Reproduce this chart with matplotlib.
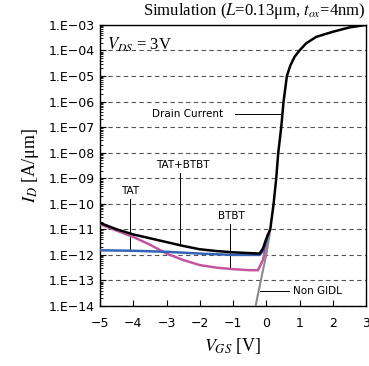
import numpy as np
import matplotlib
matplotlib.use('Agg')
from matplotlib import pyplot as plt
from matplotlib import ticker

plt.rcParams['mathtext.fontset'] = 'stix'

# Drain current (TAT+BTBT), log10(I_D)
v_drain = [-5, -4.5, -4, -3.5, -3, -2.5, -2, -1.5, -1, -0.5, -0.2, -0.1, 0, 0.12, 0.22, 0.3,
           0.36, 0.45, 0.52, 0.62, 0.72, 0.85, 1.0, 1.2, 1.5, 2.0, 2.5, 3.0]
log_drain = [-10.75, -11.0, -11.2, -11.35, -11.5, -11.65, -11.78, -11.85, -11.9, -11.93, -11.95,
             -11.75, -11.37, -11.0, -10.0, -9.0, -8.0, -7.0, -6.0, -5.0, -4.6, -4.25, -4.0,
             -3.72, -3.47, -3.27, -3.1, -3.0]

# TAT only
v_tat = [-5, -4, -3, -2, -1, -0.5, -0.2, -0.1, 0, 0.05]
log_tat = [-11.82, -11.84, -11.88, -11.95, -12.0, -12.0, -12.0, -11.85, -11.45, -11.2]

# BTBT only
v_btbt = [-5, -4.5, -4, -3.5, -3, -2.5, -2, -1.5, -1, -0.5, -0.25, -0.1, 0, 0.1]
log_btbt = [-10.8, -11.05, -11.3, -11.6, -11.95, -12.2, -12.4, -12.5, -12.56, -12.6, -12.6,
            -12.2, -11.6, -11.1]

# Non GIDL
v_non = [-0.35, -0.29, -0.1, 0, 0.1]
log_non = [-14.2, -13.8, -12.6, -12.0, -11.2]

fig = plt.figure(figsize=(3.69, 3.66), dpi=100)
ax = fig.add_axes([0.271, 0.164, 0.721, 0.768])

ax.plot(v_btbt, 10 ** np.array(log_btbt), color='#c4569e', lw=1.8, zorder=3)
ax.plot(v_tat, 10 ** np.array(log_tat), color='#3563b5', lw=1.8, zorder=4)
ax.plot(v_non, 10 ** np.array(log_non), color='#8a8a8a', lw=1.5, zorder=3)
ax.plot(v_drain, 10 ** np.array(log_drain), color='black', lw=1.8, zorder=5)

ax.set_yscale('log')
ax.set_xlim(-5, 3)
ax.set_ylim(1e-14, 1e-3)
ax.yaxis.set_major_locator(ticker.LogLocator(base=10, numticks=20))
ax.yaxis.set_minor_locator(ticker.LogLocator(base=10, subs=np.arange(2, 10), numticks=20))
ax.yaxis.set_major_formatter(ticker.FuncFormatter(
    lambda y, pos: '1.E\u2212%02d' % round(-np.log10(y))))
ax.yaxis.set_minor_formatter(ticker.NullFormatter())
ax.set_xticks(range(-5, 4))
ax.xaxis.set_major_formatter(ticker.FuncFormatter(
    lambda x, pos: ('\u2212%d' % -x) if x < 0 else '%d' % x))
ax.tick_params(direction='in', labelsize=9, length=4, width=0.8)
ax.tick_params(which='minor', direction='in', length=2, width=0.6)
ax.tick_params(axis='x', pad=8)
for lab in ax.get_xticklabels() + ax.get_yticklabels():
    lab.set_fontfamily('DejaVu Sans')

ax.grid(axis='y', which='major', linestyle=(0, (4, 3)), color='#555555', lw=0.8)
for s in ax.spines.values():
    s.set_linewidth(1.0)

ax.set_xlabel(r'$V_{GS}$ [V]', fontsize=13, fontfamily='Liberation Serif')
ax.set_ylabel(r'$I_D$ [A/μm]', fontsize=13, fontfamily='Liberation Serif', labelpad=6)
fig.text(0.99, 0.942, r'Simulation ($L$=0.13μm, $t_{ox}$=4nm)', ha='right', va='bottom',
         fontsize=12, fontfamily='Liberation Serif')
ax.text(-4.78, 10 ** -3.78, r'$V_{DS}$ = 3V', fontsize=12, fontfamily='Liberation Serif',
        va='center', ha='left')

# annotations with leader lines
ax.text(-3.45, 10 ** -6.5, 'Drain Current', fontsize=7.5, va='center', ha='left')
ax.plot([-0.95, 0.42], [10 ** -6.5, 10 ** -6.5], color='black', lw=0.7)

ax.text(-2.5, 10 ** -8.5, 'TAT+BTBT', fontsize=7.5, va='center', ha='center')
ax.plot([-2.6, -2.6], [10 ** -8.78, 10 ** -11.62], color='black', lw=0.7)

ax.text(-4.1, 10 ** -9.5, 'TAT', fontsize=7.5, va='center', ha='center')
ax.plot([-4.1, -4.1], [10 ** -9.8, 10 ** -11.83], color='black', lw=0.7)

ax.text(-1.05, 10 ** -10.47, 'BTBT', fontsize=7.5, va='center', ha='center')
ax.plot([-1.1, -1.1], [10 ** -10.78, 10 ** -12.56], color='black', lw=0.7)

ax.text(0.8, 10 ** -13.42, 'Non GIDL', fontsize=7.5, va='center', ha='left')
ax.plot([-0.2, 0.68], [10 ** -13.42, 10 ** -13.42], color='black', lw=0.7)

fig.savefig('out.png', dpi=100)
